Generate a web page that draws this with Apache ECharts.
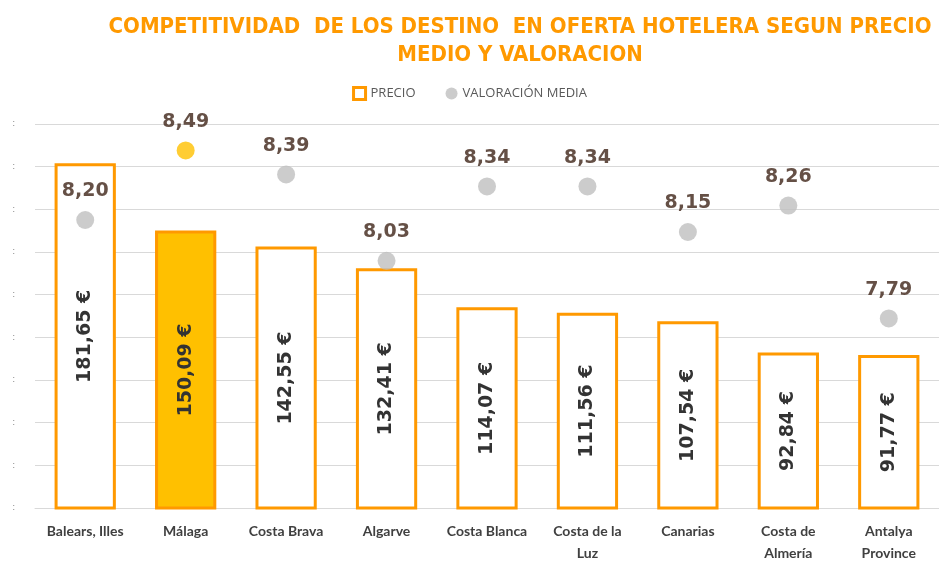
<!DOCTYPE html>
<html><head><meta charset="utf-8">
<script src="https://cdn.jsdelivr.net/npm/echarts@6/dist/echarts.min.js"></script>
<style>html,body{margin:0;padding:0;background:#fff}#c{width:939px;height:561px}</style>
</head><body><div id="c"></div>
<script>
const categories = ["Balears, Illes","Málaga","Costa Brava","Algarve","Costa Blanca","Costa de la\nLuz","Canarias","Costa de\nAlmería","Antalya\nProvince"];
const precio = [181.65,150.09,142.55,132.41,114.07,111.56,107.54,92.84,91.77];
const valoracion = [8.20,8.49,8.39,8.03,8.34,8.34,8.15,8.26,7.79];
const highlightIndex = 1;
const fmt = v => v.toFixed(2).replace('.', ',');

const chart = echarts.init(document.getElementById('c'));
chart.setOption({
  animation:false,
  title:{text:'COMPETITIVIDAD  DE LOS DESTINO  EN OFERTA HOTELERA SEGUN PRECIO\nMEDIO Y VALORACION', left:515, top:8, textAlign:'center',
    textStyle:{color:'#FF9900', fontFamily:'DejaVu Sans Condensed', fontWeight:'bold', fontSize:22, lineHeight:28}},
  legend:{top:81, left:'center', itemGap:30, itemWidth:12, itemHeight:12,
    textStyle:{color:'#595959', fontFamily:'Open Sans', fontSize:13},
    data:[{name:'PRECIO', icon:'rect', itemStyle:{color:'#fff', borderColor:'#FF9900', borderWidth:3}},
          {name:'VALORACIÓN MEDIA', icon:'circle', itemStyle:{color:'#BFBFBF'}}]},
  grid:{left:35, right:0, top:124, bottom:53, outerBoundsMode:'none', containLabel:false},
  xAxis:{type:'category', data:categories,
    axisLine:{lineStyle:{color:'#D9D9D9'}}, axisTick:{show:false},
    axisLabel:{color:'#404040', fontFamily:'Lato', fontWeight:'bold', fontSize:14, margin:12, lineHeight:22, interval:0}},
  yAxis:[{type:'value', min:20, max:200, interval:20,
    splitLine:{lineStyle:{color:'#D9D9D9'}}, axisLine:{show:false}, axisTick:{show:false},
    axisLabel:{formatter:()=>':', color:'#808080', fontSize:9, margin:20}},
   {type:'value', min:7, max:8.6, show:false, splitLine:{show:false}}],
  series:[
   {name:'PRECIO', type:'bar', barWidth:'61%', yAxisIndex:0,
    data:precio.map((v,i)=>({value:v, itemStyle:{color: i===highlightIndex?'#FFC000':'#fff', borderColor:'#FF9900', borderWidth:3}})),
    label:{show:true, position:'inside', rotate:90, formatter:p=>fmt(p.value)+' €',
      color:'#333333', fontFamily:'DejaVu Sans', fontWeight:'bold', fontSize:19}},
   {name:'VALORACIÓN MEDIA', type:'scatter', yAxisIndex:1, symbolSize:18,
    data:valoracion.map((v,i)=>({value:v, itemStyle:{color: i===highlightIndex?'#FFC000':'#BFBFBF'}})),
    label:{show:true, position:'top', distance:10, formatter:p=>fmt(p.value),
      color:'#3F2418', fontFamily:'DejaVu Sans', fontWeight:'bold', fontSize:19}}
  ]
});
</script></body></html>
